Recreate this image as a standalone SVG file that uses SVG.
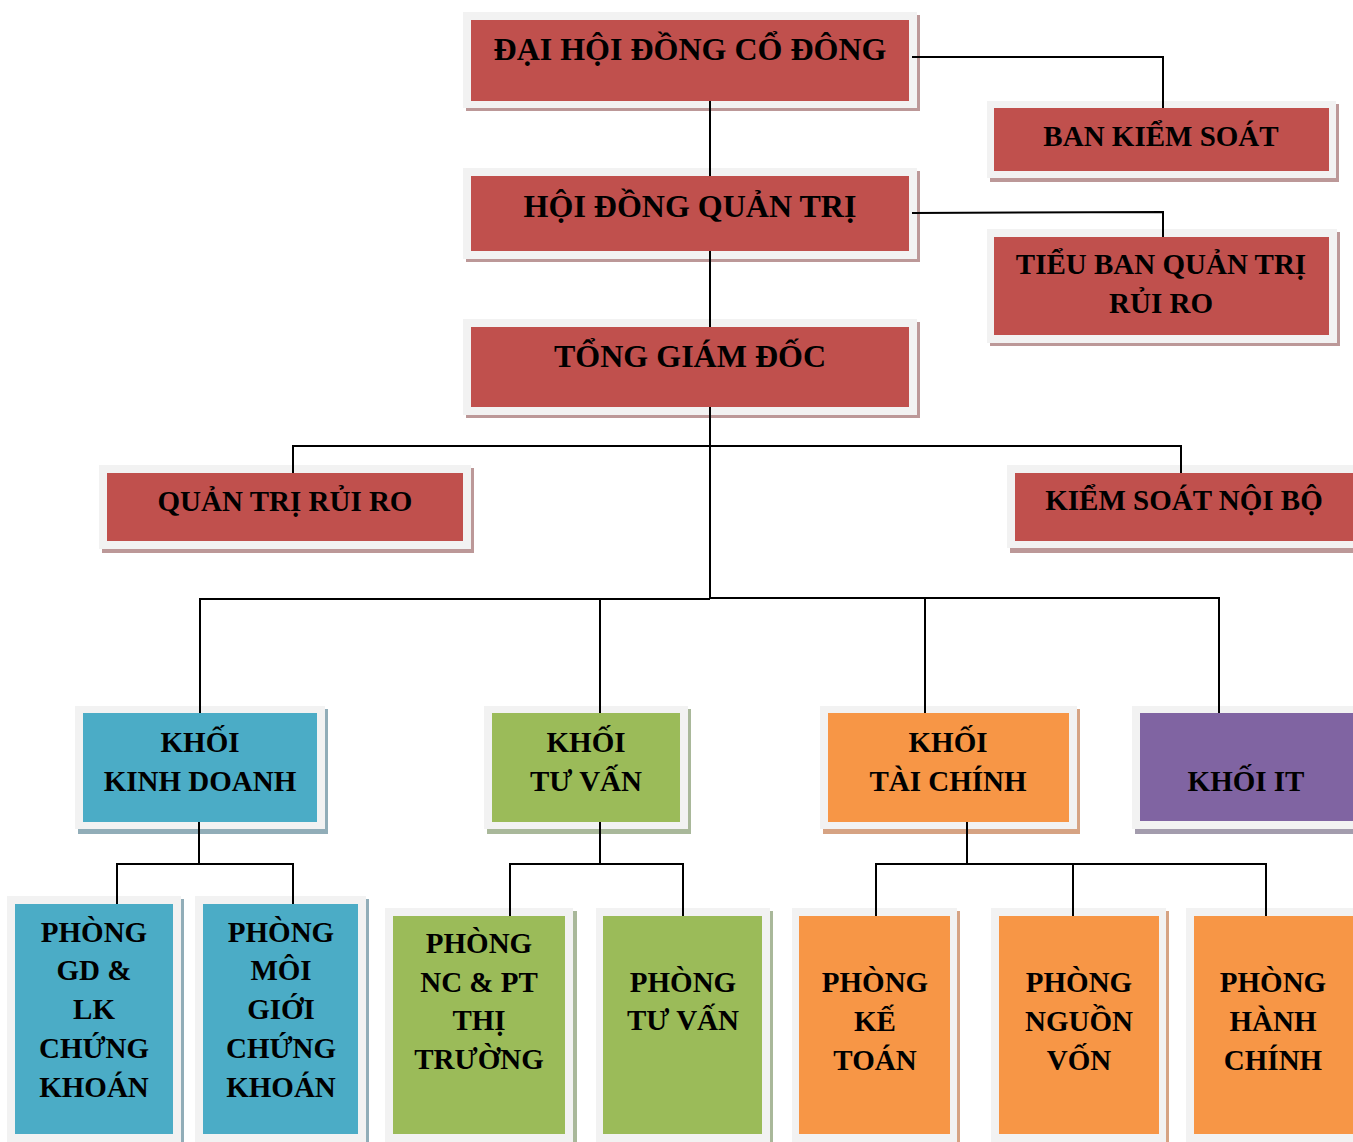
<svg xmlns="http://www.w3.org/2000/svg" width="1353" height="1142" viewBox="0 0 1353 1142">
<style>
.fr{fill:#f2f2f2}
.red{fill:#c0504d}.blue{fill:#4bacc6}.green{fill:#9bbb59}.orange{fill:#f79646}.purple{fill:#8064a2}
.sr{fill:#bc9898}.sb{fill:#91adb8}.sg{fill:#a9b89a}.so{fill:#d6a383}.sp{fill:#a39cad}
.t{font-family:"Liberation Serif","Times New Roman",serif;font-weight:bold;font-size:29px;text-anchor:middle;fill:#000}
.tl{font-size:32px}
.c{fill:none;stroke:#000;stroke-width:2}
</style>
<rect width="1353" height="1142" fill="#fff"/>
<g id="n-dhdcd">
<rect class="sr" x="466" y="15" width="454" height="96"/>
<rect class="fr" x="463" y="12" width="454" height="96"/>
<rect class="red" x="471" y="20" width="438" height="81"/>
<text class="t tl" x="690" y="60">ĐẠI HỘI ĐỒNG CỔ ĐÔNG</text>
</g>
<g id="n-hdqt">
<rect class="sr" x="466" y="171" width="454" height="91"/>
<rect class="fr" x="463" y="168" width="454" height="91"/>
<rect class="red" x="471" y="176" width="438" height="75"/>
<text class="t tl" x="690" y="217">HỘI ĐỒNG QUẢN TRỊ</text>
</g>
<g id="n-tgd">
<rect class="sr" x="466" y="322" width="454" height="96"/>
<rect class="fr" x="463" y="319" width="454" height="96"/>
<rect class="red" x="471" y="327" width="438" height="80"/>
<text class="t tl" x="690" y="367">TỔNG GIÁM ĐỐC</text>
</g>
<g id="n-bks">
<rect class="sr" x="990" y="104" width="349" height="78"/>
<rect class="fr" x="987" y="101" width="349" height="77"/>
<rect class="red" x="994" y="108" width="335" height="63"/>
<text class="t" x="1161" y="146">BAN KIỂM SOÁT</text>
</g>
<g id="n-tbqtrr">
<rect class="sr" x="990" y="232" width="350" height="114"/>
<rect class="fr" x="987" y="229" width="350" height="114"/>
<rect class="red" x="994" y="237" width="335" height="98"/>
<text class="t" x="1161" y="274">TIỂU BAN QUẢN TRỊ</text>
<text class="t" x="1161" y="313">RỦI RO</text>
</g>
<g id="n-qtrr">
<rect class="sr" x="102" y="468" width="372" height="85"/>
<rect class="fr" x="99" y="465" width="372" height="84"/>
<rect class="red" x="107" y="473" width="356" height="68"/>
<text class="t" x="285" y="511">QUẢN TRỊ RỦI RO</text>
</g>
<g id="n-ksnb">
<rect class="sr" x="1010" y="468" width="360" height="85"/>
<rect class="fr" x="1007" y="465" width="360" height="83"/>
<rect class="red" x="1015" y="473" width="350" height="68"/>
<text class="t" x="1184" y="510">KIỂM SOÁT NỘI BỘ</text>
</g>
<g id="n-kinhdoanh">
<rect class="sb" x="78" y="709" width="250" height="125"/>
<rect class="fr" x="75" y="706" width="250" height="123"/>
<rect class="blue" x="83" y="713" width="234" height="109"/>
<text class="t" x="200" y="752">KHỐI</text>
<text class="t" x="200" y="791">KINH DOANH</text>
</g>
<g id="n-tuvan">
<rect class="sg" x="487" y="709" width="204" height="125"/>
<rect class="fr" x="484" y="706" width="204" height="123"/>
<rect class="green" x="492" y="713" width="188" height="109"/>
<text class="t" x="586" y="752">KHỐI</text>
<text class="t" x="586" y="791">TƯ VẤN</text>
</g>
<g id="n-taichinh">
<rect class="so" x="823" y="709" width="257" height="125"/>
<rect class="fr" x="820" y="706" width="257" height="123"/>
<rect class="orange" x="828" y="713" width="241" height="109"/>
<text class="t" x="948" y="752">KHỐI</text>
<text class="t" x="948" y="791">TÀI CHÍNH</text>
</g>
<g id="n-it">
<rect class="sp" x="1135" y="709" width="230" height="125"/>
<rect class="fr" x="1132" y="706" width="230" height="123"/>
<rect class="purple" x="1140" y="713" width="220" height="108"/>
<text class="t" x="1246" y="791">KHỐI IT</text>
</g>
<g id="n-gdlk">
<rect class="sb" x="10" y="899" width="174" height="250"/>
<rect class="fr" x="7" y="896" width="174" height="250"/>
<rect class="blue" x="15" y="904" width="158" height="230"/>
<text class="t" x="94" y="942">PHÒNG</text>
<text class="t" x="94" y="980">GD &amp;</text>
<text class="t" x="94" y="1019">LK</text>
<text class="t" x="94" y="1058">CHỨNG</text>
<text class="t" x="94" y="1097">KHOÁN</text>
</g>
<g id="n-moigioi">
<rect class="sb" x="198" y="899" width="171" height="250"/>
<rect class="fr" x="195" y="896" width="171" height="250"/>
<rect class="blue" x="203" y="904" width="155" height="230"/>
<text class="t" x="281" y="942">PHÒNG</text>
<text class="t" x="281" y="980">MÔI</text>
<text class="t" x="281" y="1019">GIỚI</text>
<text class="t" x="281" y="1058">CHỨNG</text>
<text class="t" x="281" y="1097">KHOÁN</text>
</g>
<g id="n-ncpt">
<rect class="sg" x="388" y="911" width="189" height="240"/>
<rect class="fr" x="385" y="908" width="188" height="240"/>
<rect class="green" x="393" y="916" width="172" height="218"/>
<text class="t" x="479" y="953">PHÒNG</text>
<text class="t" x="479" y="992">NC &amp; PT</text>
<text class="t" x="479" y="1030">THỊ</text>
<text class="t" x="479" y="1069">TRƯỜNG</text>
</g>
<g id="n-phongtuvan">
<rect class="sg" x="599" y="911" width="174" height="240"/>
<rect class="fr" x="596" y="908" width="174" height="240"/>
<rect class="green" x="603" y="916" width="159" height="218"/>
<text class="t" x="683" y="992">PHÒNG</text>
<text class="t" x="683" y="1030">TƯ VẤN</text>
</g>
<g id="n-ketoan">
<rect class="so" x="795" y="911" width="165" height="240"/>
<rect class="fr" x="792" y="908" width="165" height="240"/>
<rect class="orange" x="799" y="916" width="151" height="218"/>
<text class="t" x="875" y="992">PHÒNG</text>
<text class="t" x="875" y="1031">KẾ</text>
<text class="t" x="875" y="1070">TOÁN</text>
</g>
<g id="n-nguonvon">
<rect class="so" x="994" y="911" width="175" height="240"/>
<rect class="fr" x="991" y="908" width="175" height="240"/>
<rect class="orange" x="999" y="916" width="160" height="218"/>
<text class="t" x="1079" y="992">PHÒNG</text>
<text class="t" x="1079" y="1031">NGUỒN</text>
<text class="t" x="1079" y="1070">VỐN</text>
</g>
<g id="n-hanhchinh">
<rect class="so" x="1189" y="911" width="175" height="240"/>
<rect class="fr" x="1186" y="908" width="175" height="240"/>
<rect class="orange" x="1194" y="916" width="170" height="218"/>
<text class="t" x="1273" y="992">PHÒNG</text>
<text class="t" x="1273" y="1031">HÀNH</text>
<text class="t" x="1273" y="1070">CHÍNH</text>
</g>
<g id="connectors">
<path class="c" d="M710 101V176M710 251V327M710 407V598"/>
<path class="c" d="M912 57H1163V108"/>
<path class="c" d="M912 213L1163 212V237"/>
<path class="c" d="M293 473V446H1181V473"/>
<path class="c" d="M200 713V599H710M710 598H1219V713M600 599V713M925 598V713"/>
<path class="c" d="M199 822V864M117 904V864H293V904"/>
<path class="c" d="M600 822V864M510 916V864H683V916"/>
<path class="c" d="M967 822V864M876 916V864H1266V916M1073 864V916"/>
</g>
</svg>
